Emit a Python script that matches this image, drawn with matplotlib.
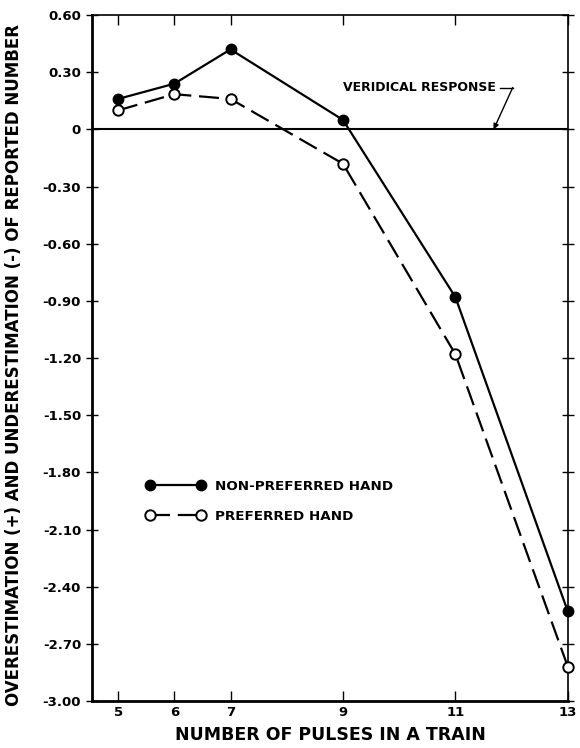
import matplotlib
matplotlib.use("Agg")
import matplotlib.pyplot as plt

pulses = [5, 6, 7, 9, 11, 13]
non_preferred = [0.16, 0.24, 0.42, 0.05, -0.88, -2.53]
preferred = [0.10, 0.185, 0.16, -0.18, -1.18, -2.82]
y_ticks = [0.60, 0.30, 0, -0.30, -0.60, -0.90, -1.20, -1.50, -1.80, -2.10, -2.40, -2.70, -3.00]
y_tick_labels = ["0.60", "0.30", "0", "-0.30", "-0.60", "-0.90", "-1.20", "-1.50",
                 "-1.80", "-2.10", "-2.40", "-2.70", "-3.00"]
x_tick_labels = ["5", "6", "7", "9", "11", "13"]

plt.rcParams["font.family"] = ["DejaVu Sans"]
plt.rcParams["font.weight"] = "bold"
plt.rcParams["axes.labelweight"] = "bold"

fig = plt.figure(figsize=(5.8, 7.48), dpi=100)
ax = fig.add_axes([0.159, 0.0628, 0.820, 0.917])

ax.plot(pulses, non_preferred, color="black", lw=1.6, marker="o", ms=7.5,
        mfc="black", mec="black", label="NON-PREFERRED HAND", clip_on=False, zorder=3)
ax.plot(pulses, preferred, color="black", lw=1.6, marker="o", ms=7.5,
        mfc="white", mec="black", mew=1.4, dashes=(9, 3.5), label="PREFERRED HAND",
        clip_on=False, zorder=3)

ax.axhline(0, color="black", lw=1.5, zorder=2)

ax.set_xlim(4.54, 13)
ax.set_ylim(-3.0, 0.6)
ax.set_xticks(pulses)
ax.set_xticklabels(x_tick_labels, fontsize=9.5)
ax.set_yticks(y_ticks)
ax.set_yticklabels(y_tick_labels, fontsize=9.5)

ax.tick_params(axis="both", which="both", top=True, right=True, direction="in",
               length=7, width=1.0)
ax.tick_params(axis="y", which="both", left=True, direction="inout", length=9)
for side in ["left", "bottom"]:
    ax.spines[side].set_linewidth(2.0)
for side in ["right", "top"]:
    ax.spines[side].set_linewidth(1.2)

ax.set_xlabel("NUMBER OF PULSES IN A TRAIN", fontsize=12.5, labelpad=5)
ax.set_ylabel("OVERESTIMATION (+) AND UNDERESTIMATION (-) OF REPORTED NUMBER",
              fontsize=12)
ax.yaxis.set_label_coords(-0.145, 0.49)

ax.text(11.72, 0.22, "VERIDICAL RESPONSE", ha="right", va="center", fontsize=9)
ax.plot([11.79, 12.02], [0.22, 0.22], color="black", lw=1.0)
ax.annotate("", xy=(11.68, 0.0), xytext=(12.02, 0.22),
            arrowprops=dict(arrowstyle="-|>", color="black", lw=1.0,
                            mutation_scale=8, shrinkA=0, shrinkB=0))

leg = ax.legend(loc="upper left", bbox_to_anchor=(0.113, 0.322), frameon=False,
                numpoints=2, handlelength=4.4, fontsize=9.7, labelspacing=1.25,
                handletextpad=0.7, borderpad=0, borderaxespad=0)

fig.savefig("out.png", dpi=100)
